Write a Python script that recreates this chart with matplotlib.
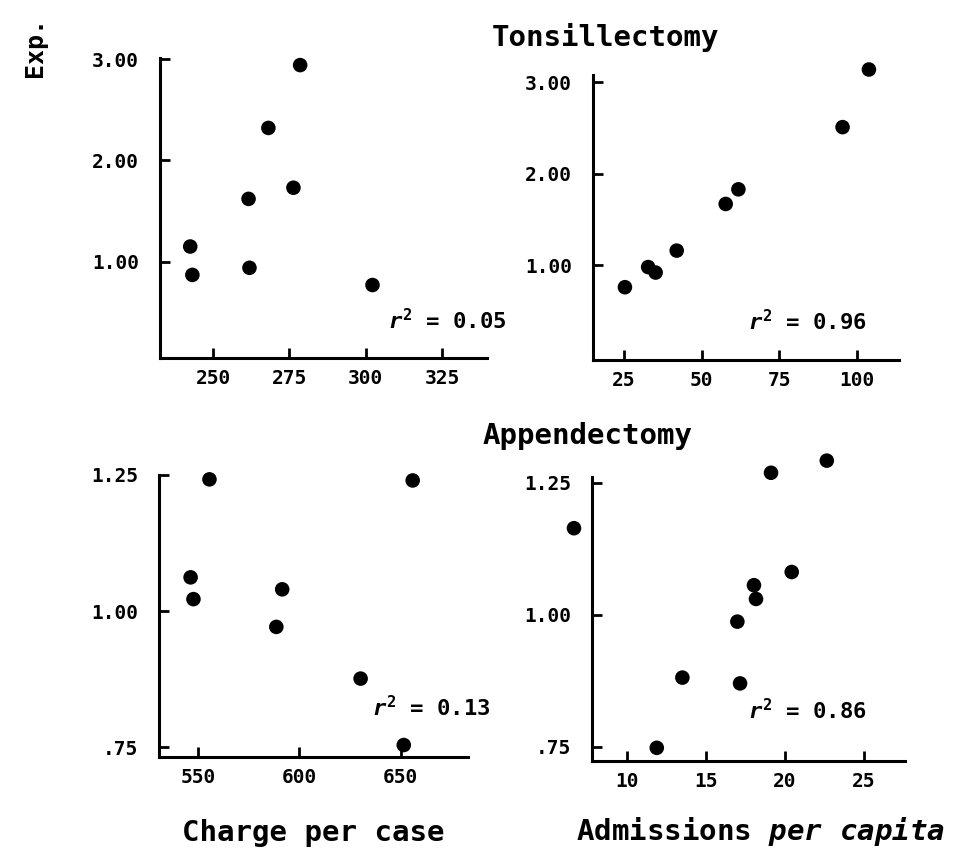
import matplotlib
matplotlib.use("Agg")
import matplotlib.pyplot as plt

# 스캔된 그림 재현 - 편도선 절제술 / 충수 절제술 산점도 4개
plt.rcParams["font.family"] = ["DejaVu Sans Mono", "DejaVu Sans"]
plt.rcParams["font.weight"] = "bold"
plt.rcParams["mathtext.fontset"] = "custom"
plt.rcParams["mathtext.rm"] = "DejaVu Sans Mono:bold"
plt.rcParams["mathtext.it"] = "DejaVu Sans Mono:italic:bold"

# 데이터
tons_charge_x = [242.5, 243.2, 261.6, 261.9, 268.1, 276.3, 278.5, 302.2]
tons_charge_y = [1.15, 0.87, 1.62, 0.94, 2.32, 1.73, 2.94, 0.77]

tons_adm_x = [25.3, 32.8, 35.2, 42.0, 57.8, 61.9, 95.5, 104.0]
tons_adm_y = [0.76, 0.98, 0.92, 1.16, 1.67, 1.83, 2.51, 3.14]

app_charge_x = [555.6, 546.3, 547.7, 591.5, 588.6, 630.2, 655.9, 651.5]
app_charge_y = [1.242, 1.062, 1.022, 1.040, 0.971, 0.876, 1.240, 0.754]

app_adm_x = [6.66, 11.90, 13.52, 17.00, 17.17, 18.05, 18.18, 20.44, 19.13, 22.66]
app_adm_y = [1.164, 0.748, 0.881, 0.987, 0.870, 1.056, 1.030, 1.081, 1.269, 1.292]

tons_y_ticks = [1.00, 2.00, 3.00]
tons_y_labels = ["1.00", "2.00", "3.00"]
app_y_ticks = [0.75, 1.00, 1.25]
app_y_labels = [".75", "1.00", "1.25"]

r2_values = ["0.05", "0.96", "0.13", "0.86"]

W, H = 970, 852
fig = plt.figure(figsize=(W / 100, H / 100), dpi=100)


def box(l, t, r, b):
    # 픽셀 좌표 -> figure 비율
    return [l / W, 1 - b / H, (r - l) / W, (b - t) / H]


def fx(x):
    return x / W


def fy(y):
    return 1 - y / H


def make_ax(rect, xs, ys, xlim, ylim, xticks, yticks, ylabels):
    ax = fig.add_axes(rect)
    ax.scatter(xs, ys, s=110, color="black", edgecolors="none", clip_on=False, zorder=3)
    ax.set_xlim(xlim)
    ax.set_ylim(ylim)
    ax.set_xticks(xticks)
    ax.set_xticklabels([str(t) for t in xticks])
    ax.set_yticks(yticks)
    ax.set_yticklabels(ylabels)
    for side in ["top", "right"]:
        ax.spines[side].set_visible(False)
    for side in ["left", "bottom"]:
        ax.spines[side].set_linewidth(2.2)
    ax.tick_params(direction="in", length=7, width=2, labelsize=14)
    ax.tick_params(axis="y", pad=15)
    ax.tick_params(axis="x", pad=8)
    ax.patch.set_alpha(0)
    return ax


# 왼쪽 위: charge per case (tonsillectomy)
make_ax(box(160, 58, 487, 358), tons_charge_x, tons_charge_y,
        (232.6, 339.7), (0.05, 3.01), [250, 275, 300, 325], tons_y_ticks, tons_y_labels)
# 오른쪽 위: admissions per capita (tonsillectomy)
make_ax(box(593, 75, 899, 360), tons_adm_x, tons_adm_y,
        (15.0, 113.7), (-0.036, 3.08), [25, 50, 75, 100], tons_y_ticks, tons_y_labels)
# 왼쪽 아래: charge per case (appendectomy)
make_ax(box(159, 475, 468, 757), app_charge_x, app_charge_y,
        (530.7, 683.2), (0.732, 1.245), [550, 600, 650], app_y_ticks, app_y_labels)
# 오른쪽 아래: admissions per capita (appendectomy)
make_ax(box(592, 477, 905, 761), app_adm_x, app_adm_y,
        (7.80, 27.61), (0.723, 1.261), [10, 15, 20, 25], app_y_ticks, app_y_labels)

# r^2 값
r2_pos = [(388, 321), (748, 322), (372, 708), (748, 711)]
for (px, py), v in zip(r2_pos, r2_values):
    fig.text(fx(px), fy(py), r"$r^{2}$ = " + v, fontsize=16, ha="left", va="center")

# 제목, 축 이름
fig.text(fx(606), fy(38), "Tonsillectomy", fontsize=21, ha="center", va="center")
fig.text(fx(588), fy(436), "Appendectomy", fontsize=21, ha="center", va="center")
fig.text(fx(313), fy(833), "Charge per case", fontsize=21, ha="center", va="center")
fig.text(fx(760), fy(832), r"Admissions $per$ $capita$", fontsize=21, ha="center", va="center")
fig.text(fx(35), fy(47), "Exp.", fontsize=18, rotation=90, ha="center", va="center")

fig.savefig("out.png", dpi=100, facecolor="white")
